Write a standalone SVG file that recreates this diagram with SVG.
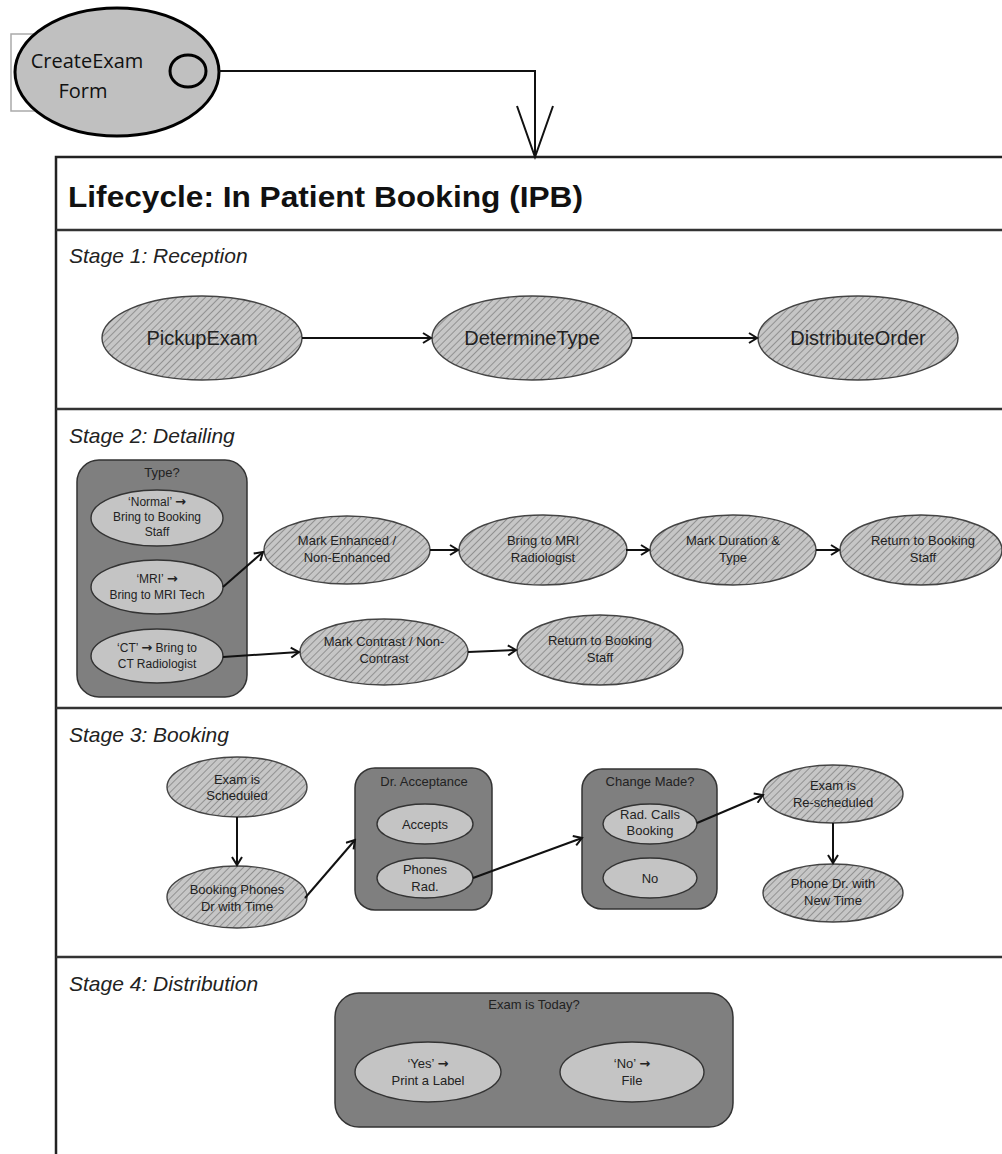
<svg xmlns="http://www.w3.org/2000/svg" width="1002" height="1154" viewBox="0 0 1002 1154">
<defs>
<pattern id="hatch" patternUnits="userSpaceOnUse" width="5" height="5" patternTransform="rotate(45)">
<rect width="5" height="5" fill="#c6c6c6"/>
<line x1="0" y1="0" x2="0" y2="5" stroke="#7a7a7a" stroke-width="1.4"/>
</pattern>
<marker id="open" markerWidth="12" markerHeight="12" refX="10" refY="6" orient="auto" markerUnits="userSpaceOnUse">
<path d="M2,1 L10,6 L2,11" fill="none" stroke="#111" stroke-width="2"/>
</marker>
</defs>
<style>
.frame{fill:none;stroke:#222;stroke-width:2.5}
.sep{stroke:#333;stroke-width:2.5}
.stage{font-family:"Liberation Sans",Arial,sans-serif;font-style:italic;font-size:21px;fill:#222}
.title{font-family:"Liberation Sans",Arial,sans-serif;font-weight:bold;font-size:29px;fill:#111}
.hat{fill:url(#hatch);stroke:#444;stroke-width:1.4}
.inner{fill:#c4c4c4;stroke:#333;stroke-width:1.4}
.box{fill:#7f7f7f;stroke:#333;stroke-width:1.5}
.t20{font-family:"Liberation Sans",Arial,sans-serif;font-size:20px;fill:#222;text-anchor:middle}
.t13{font-family:"Liberation Sans",Arial,sans-serif;font-size:13px;fill:#222;text-anchor:middle}
.t12{font-family:"Liberation Sans",Arial,sans-serif;font-size:12px;fill:#222;text-anchor:middle}
.ar{font-family:"DejaVu Sans",sans-serif;font-weight:bold;font-size:13px}
.con{fill:none;stroke:#111;stroke-width:2;marker-end:url(#open)}
</style>
<rect width="1002" height="1154" fill="#fff"/>

<!-- frame -->
<g id="frame">
<path class="frame" d="M1010,157 L56,157 L56,1160"/>
<line class="sep" x1="56" y1="230" x2="1010" y2="230"/>
<line class="sep" x1="56" y1="409" x2="1010" y2="409"/>
<line class="sep" x1="56" y1="708" x2="1010" y2="708"/>
<line class="sep" x1="56" y1="957" x2="1010" y2="957"/>
<text class="title" x="68" y="207" textLength="515" lengthAdjust="spacingAndGlyphs">Lifecycle: In Patient Booking (IPB)</text>
<text class="stage" x="69" y="263">Stage 1: Reception</text>
<text class="stage" x="69" y="443">Stage 2: Detailing</text>
<text class="stage" x="69" y="742">Stage 3: Booking</text>
<text class="stage" x="69" y="991">Stage 4: Distribution</text>
</g>

<!-- top node -->
<g id="createExamForm">
<rect x="11" y="34" width="30" height="77" fill="none" stroke="#aaa" stroke-width="1.5"/>
<ellipse cx="117" cy="72" rx="102" ry="64" fill="#c0c0c0" stroke="#000" stroke-width="3"/>
<ellipse cx="188" cy="71" rx="18" ry="16" fill="none" stroke="#000" stroke-width="3"/>
<text x="87" y="68" font-family="'Open Sans','Liberation Sans',sans-serif" font-size="20" fill="#111" text-anchor="middle">CreateExam</text>
<text x="83" y="98" font-family="'Open Sans','Liberation Sans',sans-serif" font-size="20" fill="#111" text-anchor="middle">Form</text>
</g>

<!-- Stage 1 -->
<g id="pickupExam"><ellipse class="hat" cx="202" cy="338" rx="100" ry="42"/><text class="t20" x="202" y="345">PickupExam</text></g>
<g id="determineType"><ellipse class="hat" cx="532" cy="338" rx="100" ry="42"/><text class="t20" x="532" y="345">DetermineType</text></g>
<g id="distributeOrder"><ellipse class="hat" cx="858" cy="338" rx="100" ry="42"/><text class="t20" x="858" y="345">DistributeOrder</text></g>

<!-- Stage 2 -->
<g id="typeBox">
<rect class="box" x="77" y="460" width="170" height="237" rx="22"/>
<text class="t13" x="162" y="477">Type?</text>
</g>
<g id="normal"><ellipse class="inner" cx="157" cy="518" rx="66" ry="28"/>
<text class="t12" x="157" y="506">‘Normal’ <tspan class="ar">→</tspan></text><text class="t12" x="157" y="521">Bring to Booking</text><text class="t12" x="157" y="536">Staff</text></g>
<g id="mri"><ellipse class="inner" cx="157" cy="587" rx="66" ry="27"/>
<text class="t12" x="157" y="583">‘MRI’ <tspan class="ar">→</tspan></text><text class="t12" x="157" y="599">Bring to MRI Tech</text></g>
<g id="ct"><ellipse class="inner" cx="157" cy="656" rx="66" ry="27"/>
<text class="t12" x="157" y="652">‘CT’ <tspan class="ar">→</tspan> Bring to</text><text class="t12" x="157" y="668">CT Radiologist</text></g>

<g id="markEnhanced"><ellipse class="hat" cx="347" cy="550" rx="83" ry="34"/>
<text class="t13" x="347" y="545">Mark Enhanced /</text><text class="t13" x="347" y="562">Non-Enhanced</text></g>
<g id="bringMri"><ellipse class="hat" cx="543" cy="550" rx="84" ry="35"/>
<text class="t13" x="543" y="545">Bring to MRI</text><text class="t13" x="543" y="562">Radiologist</text></g>
<g id="markDuration"><ellipse class="hat" cx="733" cy="550" rx="83" ry="35"/>
<text class="t13" x="733" y="545">Mark Duration &amp;</text><text class="t13" x="733" y="562">Type</text></g>
<g id="returnBooking1"><ellipse class="hat" cx="921" cy="550" rx="81" ry="35"/>
<text class="t13" x="923" y="545">Return to Booking</text><text class="t13" x="923" y="562">Staff</text></g>
<g id="markContrast"><ellipse class="hat" cx="384" cy="652" rx="84" ry="33"/>
<text class="t13" x="384" y="646">Mark Contrast / Non-</text><text class="t13" x="384" y="663">Contrast</text></g>
<g id="returnBooking2"><ellipse class="hat" cx="600" cy="650" rx="83" ry="35"/>
<text class="t13" x="600" y="645">Return to Booking</text><text class="t13" x="600" y="662">Staff</text></g>

<!-- Stage 3 -->
<g id="examScheduled"><ellipse class="hat" cx="237" cy="787" rx="70" ry="30"/>
<text class="t13" x="237" y="784">Exam is</text><text class="t13" x="237" y="800">Scheduled</text></g>
<g id="bookingPhones"><ellipse class="hat" cx="237" cy="897" rx="70" ry="31"/>
<text class="t13" x="237" y="894">Booking Phones</text><text class="t13" x="237" y="911">Dr with Time</text></g>
<g id="drAcceptance">
<rect class="box" x="355" y="768" width="137" height="142" rx="20"/>
<text class="t13" x="424" y="786">Dr. Acceptance</text>
</g>
<g id="accepts"><ellipse class="inner" cx="425" cy="824" rx="48" ry="20"/><text class="t13" x="425" y="829">Accepts</text></g>
<g id="phonesRad"><ellipse class="inner" cx="425" cy="878" rx="48" ry="20"/>
<text class="t13" x="425" y="874">Phones</text><text class="t13" x="425" y="891">Rad.</text></g>
<g id="changeMade">
<rect class="box" x="582" y="769" width="135" height="140" rx="20"/>
<text class="t13" x="650" y="786">Change Made?</text>
</g>
<g id="radCalls"><ellipse class="inner" cx="650" cy="824" rx="47" ry="20"/>
<text class="t13" x="650" y="819">Rad. Calls</text><text class="t13" x="650" y="835">Booking</text></g>
<g id="no"><ellipse class="inner" cx="650" cy="878" rx="47" ry="20"/><text class="t13" x="650" y="883">No</text></g>
<g id="rescheduled"><ellipse class="hat" cx="833" cy="794" rx="70" ry="29"/>
<text class="t13" x="833" y="790">Exam is</text><text class="t13" x="833" y="807">Re-scheduled</text></g>
<g id="phoneDr"><ellipse class="hat" cx="833" cy="893" rx="70" ry="29"/>
<text class="t13" x="833" y="888">Phone Dr. with</text><text class="t13" x="833" y="905">New Time</text></g>

<!-- Stage 4 -->
<g id="examToday">
<rect class="box" x="335" y="993" width="398" height="134" rx="24"/>
<text class="t13" x="534" y="1009">Exam is Today?</text>
</g>
<g id="yes"><ellipse class="inner" cx="428" cy="1072" rx="73" ry="30"/>
<text class="t13" x="428" y="1068">‘Yes’ <tspan class="ar">→</tspan></text><text class="t13" x="428" y="1085">Print a Label</text></g>
<g id="noFile"><ellipse class="inner" cx="632" cy="1072" rx="72" ry="30"/>
<text class="t13" x="632" y="1068">‘No’ <tspan class="ar">→</tspan></text><text class="t13" x="632" y="1085">File</text></g>

<!-- connectors -->
<g id="connectors">
<path d="M219,71 L535,71 L535,157" fill="none" stroke="#111" stroke-width="2"/>
<path d="M517,106 L535,157 L553,106" fill="none" stroke="#111" stroke-width="2"/>
<line class="con" x1="302" y1="338" x2="431" y2="338"/>
<line class="con" x1="632" y1="338" x2="757" y2="338"/>
<line class="con" x1="223" y1="587" x2="263" y2="552"/>
<line class="con" x1="430" y1="550" x2="458" y2="550"/>
<line class="con" x1="626" y1="550" x2="649" y2="550"/>
<line class="con" x1="816" y1="550" x2="839" y2="550"/>
<line class="con" x1="223" y1="657" x2="299" y2="652"/>
<line class="con" x1="468" y1="652" x2="516" y2="650"/>
<line class="con" x1="237" y1="817" x2="237" y2="865"/>
<line class="con" x1="305" y1="898" x2="355" y2="840"/>
<line class="con" x1="473" y1="878" x2="582" y2="838"/>
<line class="con" x1="697" y1="823" x2="763" y2="795"/>
<line class="con" x1="833" y1="823" x2="833" y2="863"/>
</g>
</svg>
